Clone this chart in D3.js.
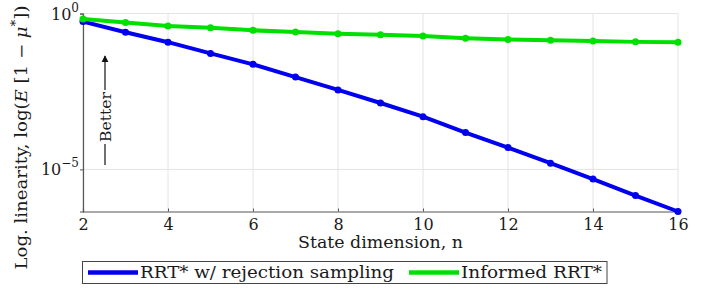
<!DOCTYPE html>
<html>
<head>
<meta charset="utf-8">
<script src="https://cdn.jsdelivr.net/npm/d3@7"></script>
<style>
  body { margin: 0; background: #fff; }
</style>
</head>
<body>
<svg id="chart" width="702" height="290"></svg>
<script>
// state dimension n
var dims = [2, 3, 4, 5, 6, 7, 8, 9, 10, 11, 12, 13, 14, 15, 16];
// log10 of E[1 - mu*]
var rejectionLog = [-0.26, -0.60, -0.92, -1.28, -1.63, -2.04, -2.45, -2.87, -3.31, -3.82, -4.30, -4.80, -5.31, -5.84, -6.35];
var informedLog = [-0.18, -0.29, -0.40, -0.46, -0.54, -0.59, -0.65, -0.68, -0.72, -0.79, -0.83, -0.86, -0.88, -0.91, -0.92];
var xTicks = [2, 4, 6, 8, 10, 12, 14, 16];
var yTickExps = [0, -5];
var seriesNames = ["RRT* w/ rejection sampling", "Informed RRT*"];

(function () {
    var FONT = "'DejaVu Serif', 'DejaVu Sans', sans-serif";
    var INK = "#1a1a1a";
    var series = [
        { name: seriesNames[0], color: "#0000ee", values: rejectionLog },
        { name: seriesNames[1], color: "#00e000", values: informedLog }
    ];

    var pl = 83, pr = 678, pt = 13.5, pb = 211.5;

    var svg = d3.select("#chart");

    var x = d3.scaleLinear().domain([2, 16]).range([pl, pr]);
    var y = d3.scaleLog().domain([Math.pow(10, -6.35), 1]).range([pb, pt]);

    // grid
    svg.append("g").selectAll("line").data(xTicks)
        .enter().append("line")
        .attr("x1", function (d) { return x(d); })
        .attr("x2", function (d) { return x(d); })
        .attr("y1", pt).attr("y2", pb)
        .attr("stroke", "#e4e4e4").attr("stroke-width", 1);

    svg.append("g").selectAll("line").data(yTickExps)
        .enter().append("line")
        .attr("x1", pl).attr("x2", pr)
        .attr("y1", function (d) { return y(Math.pow(10, d)); })
        .attr("y2", function (d) { return y(Math.pow(10, d)); })
        .attr("stroke", "#e4e4e4").attr("stroke-width", 1);

    // axes
    var xAxis = d3.axisBottom(x).tickValues(xTicks).tickSize(-3).tickPadding(7);
    var gx = svg.append("g").attr("transform", "translate(0," + pb + ")").call(xAxis);
    gx.select(".domain").attr("stroke", "#555").attr("stroke-width", 1.2);
    gx.selectAll(".tick line").attr("stroke", "#555");
    gx.selectAll("text").attr("font-size", 16).attr("font-family", FONT).attr("fill", INK);

    var yAxis = d3.axisLeft(y).tickValues(yTickExps.map(function (e) { return Math.pow(10, e); }))
        .tickSize(3).tickFormat(function () { return ""; });
    var gy = svg.append("g").attr("transform", "translate(" + pl + ",0)").call(yAxis);
    gy.select(".domain").attr("stroke", "#555").attr("stroke-width", 1.2);
    gy.selectAll(".tick line").attr("stroke", "#555");

    var yLab = svg.append("g").selectAll("text").data(yTickExps)
        .enter().append("text")
        .attr("x", pl - 4)
        .attr("y", function (d) { return y(Math.pow(10, d)) + 6; })
        .attr("text-anchor", "end")
        .attr("font-family", FONT).attr("fill", INK)
        .attr("font-size", 16);
    yLab.append("tspan").text("10");
    yLab.append("tspan").attr("dy", -8).attr("font-size", 12)
        .text(function (d) { return d === 0 ? "0" : "\u2212" + (-d); });

    // lines
    var line = d3.line()
        .x(function (d, i) { return x(dims[i]); })
        .y(function (d) { return y(Math.pow(10, d)); });

    series.forEach(function (s) {
        svg.append("path")
            .datum(s.values)
            .attr("d", line)
            .attr("fill", "none")
            .attr("stroke", s.color)
            .attr("stroke-width", 4)
            .attr("stroke-linejoin", "round");
        svg.append("g").selectAll("circle").data(s.values)
            .enter().append("circle")
            .attr("cx", function (d, i) { return x(dims[i]); })
            .attr("cy", function (d) { return y(Math.pow(10, d)); })
            .attr("r", 3.5)
            .attr("fill", s.color);
    });

    // "Better" arrow
    svg.append("defs").append("marker")
        .attr("id", "arrow").attr("viewBox", "0 0 10 10")
        .attr("refX", 9).attr("refY", 5)
        .attr("markerWidth", 6).attr("markerHeight", 6)
        .attr("orient", "auto")
        .append("path").attr("d", "M0,0L10,5L0,10z").attr("fill", "#111");

    var bx = 105;
    svg.append("line")
        .attr("x1", bx).attr("x2", bx).attr("y1", 165).attr("y2", 144)
        .attr("stroke", "#111").attr("stroke-width", 1.2);
    svg.append("line")
        .attr("x1", bx).attr("x2", bx).attr("y1", 90).attr("y2", 56)
        .attr("stroke", "#111").attr("stroke-width", 1.2)
        .attr("marker-end", "url(#arrow)");
    svg.append("text")
        .attr("transform", "translate(" + (bx + 6) + ",117) rotate(-90)")
        .attr("text-anchor", "middle")
        .attr("font-family", FONT).attr("fill", INK)
        .attr("font-size", 15)
        .attr("textLength", 50).attr("lengthAdjust", "spacingAndGlyphs")
        .text("Better");

    // axis titles
    svg.append("text")
        .attr("x", 380.5).attr("y", 248)
        .attr("text-anchor", "middle").attr("font-size", 16)
        .attr("font-family", FONT).attr("fill", INK)
        .attr("textLength", 165).attr("lengthAdjust", "spacingAndGlyphs")
        .text("State dimension, n");

    var yt = svg.append("text")
        .attr("transform", "translate(27,137.5) rotate(-90)")
        .attr("text-anchor", "middle").attr("font-size", 16)
        .attr("font-family", FONT).attr("fill", INK)
        .attr("textLength", 264).attr("lengthAdjust", "spacingAndGlyphs");
    yt.append("tspan").text("Log. linearity, log(");
    yt.append("tspan").attr("font-style", "italic").text("E");
    yt.append("tspan").text(" [1 \u2212 ");
    yt.append("tspan").attr("font-style", "italic").text("\u03bc");
    yt.append("tspan").attr("dy", -7).attr("font-size", 12).text("*");
    yt.append("tspan").attr("dy", 7).text("])");

    // legend
    var lg = svg.append("g");
    lg.append("rect")
        .attr("x", 82.5).attr("y", 261.5).attr("width", 524.5).attr("height", 22)
        .attr("fill", "#fff").attr("stroke", "#444").attr("stroke-width", 1);
    var legX = [88, 409];
    var legW = [254, 141];
    series.forEach(function (s, i) {
        lg.append("line")
            .attr("x1", legX[i]).attr("x2", legX[i] + 50)
            .attr("y1", 272.5).attr("y2", 272.5)
            .attr("stroke", s.color).attr("stroke-width", 4.5);
        lg.append("text")
            .attr("x", legX[i] + 52).attr("y", 278)
            .attr("font-size", 16)
            .attr("font-family", FONT).attr("fill", INK)
            .attr("textLength", legW[i]).attr("lengthAdjust", "spacingAndGlyphs")
            .text(s.name);
    });
})();
</script>
</body>
</html>
